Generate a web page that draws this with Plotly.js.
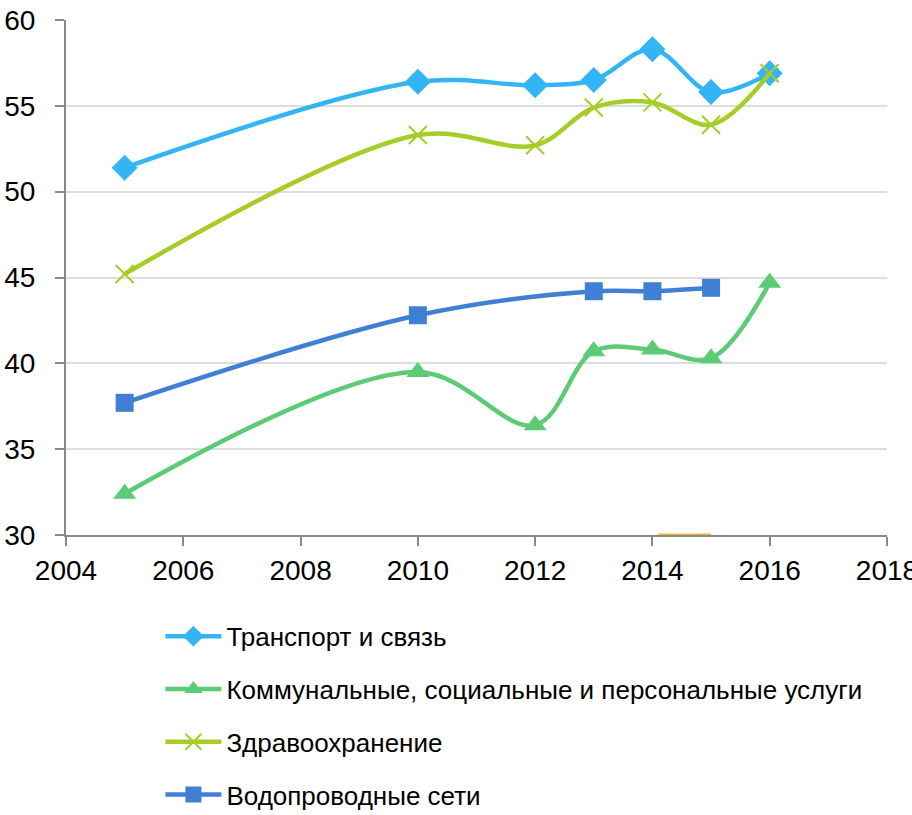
<!DOCTYPE html>
<html><head><meta charset="utf-8">
<script src="https://cdn.plot.ly/plotly-3.0.1.min.js"></script>
<style>html,body{margin:0;padding:0;background:#fff}#chart{width:912px;height:815px}</style>
</head><body><div id="chart"></div>
<script>
var years = [2005, 2010, 2012, 2013, 2014, 2015, 2016];
var transport = [51.4, 56.4, 56.2, 56.5, 58.3, 55.8, 56.9];
var communal = [32.4, 39.5, 36.4, 40.7, 40.8, 40.3, 44.7];
var health = [45.2, 53.3, 52.7, 54.9, 55.2, 53.9, 56.9];
var waterYears = [2005, 2010, 2013, 2014, 2015];
var water = [37.7, 42.8, 44.2, 44.2, 44.4];
var otherYears = [2014.1, 2015];
var other = [30, 30];
var names = ['Транспорт и связь', 'Коммунальные, социальные и персональные услуги', 'Здравоохранение', 'Водопроводные сети'];

var FONT = 'Liberation Sans, Arial, sans-serif';
function tr(x, y, name, color, symbol, msize, mline, g) {
  return {
    x: x, y: y, name: name, type: 'scatter', mode: 'lines+markers',
    legendgroup: g,
    line: {color: color, width: 4.5, shape: 'spline', smoothing: 1},
    marker: {color: color, symbol: symbol, size: msize, line: mline || {width: 0}},
    cliponaxis: false
  };
}
var data = [
  {x: otherYears, y: other, type: 'scatter', mode: 'lines', showlegend: false,
   line: {color: '#F2B81A', width: 3}, hoverinfo: 'skip', cliponaxis: false},
  tr(years, transport, names[0], '#33B5F5', 'diamond', 20, null, 'a'),
  tr(years, communal, names[1], '#5CCB76', 'triangle-up', 20, null, 'b'),
  tr(years, health, names[2], '#A5CD26', 'x-thin-open', 18, {color: '#A5CD26', width: 2}, 'c'),
  tr(waterYears, water, names[3], '#3F80D4', 'square', 18, null, 'd')
];
var layout = {
  width: 912, height: 815,
  margin: {l: 66, r: 25, t: 20, b: 280, autoexpand: false},
  paper_bgcolor: '#fff', plot_bgcolor: '#fff',
  font: {family: FONT, color: '#000'},
  showlegend: true,
  legend: {x: 0.115, y: -0.151, xanchor: 'left', yanchor: 'top', orientation: 'v',
    font: {family: FONT, size: 26, color: '#000'}, tracegroupgap: 16, itemwidth: 56,
    bgcolor: 'rgba(0,0,0,0)'},
  xaxis: {range: [2004, 2018], dtick: 2, tick0: 2004, showgrid: false, zeroline: false,
    showline: true, linecolor: '#898989', linewidth: 2, ticks: 'outside', ticklen: 9,
    tickcolor: '#898989', tickwidth: 2, tickfont: {family: FONT, size: 28, color: '#000'},
    automargin: false, ticklabeloverflow: 'allow', layer: 'below traces'},
  yaxis: {range: [30, 60], dtick: 5, showgrid: true, gridcolor: '#DDDDDD', gridwidth: 2,
    zeroline: false, showline: true, linecolor: '#898989', linewidth: 2, ticks: 'outside',
    ticklen: 9, tickcolor: '#898989', tickwidth: 2, ticklabelstandoff: 14,
    tickfont: {family: FONT, size: 28, color: '#000'}, automargin: false, ticklabeloverflow: 'allow'}
};
Plotly.newPlot('chart', data, layout, {displayModeBar: false, staticPlot: true});
</script></body></html>
